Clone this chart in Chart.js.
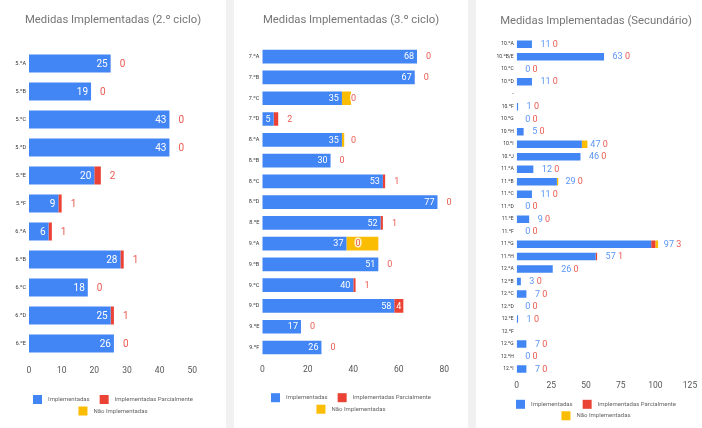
<!DOCTYPE html>
<html><head><meta charset="utf-8">
<script src="https://cdn.jsdelivr.net/npm/chart.js@4.4.0/dist/chart.umd.min.js"></script>
<style>
html,body{margin:0;padding:0;background:#f1f1f1;width:702px;height:428px;overflow:hidden;position:relative}
canvas{position:absolute;top:0;background:#fff}
</style></head><body>
<canvas id="c1" width="226" height="428" style="left:0"></canvas>
<canvas id="c2" width="234" height="428" style="left:234px"></canvas>
<canvas id="c3" width="240" height="428" style="left:476px"></canvas>
<script>
const seriesNames = ['Implementadas', 'Implementadas Parcialmente', 'Não Implementadas'];

// 2.º ciclo
const cat2 = ['5.ºA','5.ºB','5.ºC','5.ºD','5.ºE','5.ºF','6.ºA','6.ºB','6.ºC','6.ºD','6.ºE'];
const impl2 = [25,19,43,43,20,9,6,28,18,25,26];
const parc2 = [0,0,0,0,2,1,1,1,0,1,0];
const nao2  = [0,0,0,0,0,0,0,0,0,0,0];
const ticks2 = [0,10,20,30,40,50];

// 3.º ciclo
const cat3 = ['7.ºA','7.ºB','7.ºC','7.ºD','8.ºA','8.ºB','8.ºC','8.ºD','8.ºE','9.ºA','9.ºB','9.ºC','9.ºD','9.ºE','9.ºF'];
const impl3 = [68,67,35,5,35,30,53,77,52,37,51,40,58,17,26];
const parc3 = [0,0,0,2,0,0,1,0,1,0,0,1,4,0,0];
const nao3  = [0,0,4,0,1,0,0,0,0,14,0,0,0,0,0];
const ticks3 = [0,20,40,60,80];

// Secundário
const catS = ['10.ºA','10.ºB/E','10.ºC','10.ºD','-','10.ºF','10.ºG','10.ºH','10.ºI','10.ºJ','11.ºA','11.ºB','11.ºC','11.ºD','11.ºE','11.ºF','11.ºG','11.ºH','12.ºA','12.ºB','12.ºC','12.ºD','12.ºE','12.ºF','12.ºG','12.ºH','12.ºI'];
const implS = [11,63,0,11,null,1,0,5,47,46,12,29,11,0,9,0,97,57,26,3,7,0,1,null,7,0,7];
const parcS = [0,0,0,0,null,0,0,0,0,0,0,0,0,0,0,0,3,1,0,0,0,0,0,null,0,0,0];
const naoS  = [0,0,0,0,null,0,0,0,4,0,0,1,0,0,0,0,2,0,0,0,0,0,0,null,0,0,0];
const ticksS = [0,25,50,75,100,125];

const FONT = 'Roboto, "Noto Sans", Arial, sans-serif';
const COLORS = ['#4285f4','#ea4335','#fbbc04'];
const RED_TXT = '#ec5a50';
const BLUE_TXT = '#5b96f5';

const labelPlugin = {
  id: 'valLabels',
  afterDatasetsDraw(chart, args, o) {
    const ctx = chart.ctx, xs = chart.scales.x, ys = chart.scales.y;
    const b = chart.data.datasets[0].data, p = chart.data.datasets[1].data;
    ctx.save();
    ctx.font = o.size + 'px ' + FONT;
    ctx.textBaseline = 'middle';
    ctx.lineJoin = 'round';
    for (let i = 0; i < b.length; i++) {
      if (b[i] == null) continue;
      const y = ys.getPixelForValue(i) + 0.5;
      const xb = xs.getPixelForValue(b[i]);
      const xe = xs.getPixelForValue(b[i] + p[i]);
      if (o.mode === 'inside') {
        ctx.textAlign = 'right';
        ctx.fillStyle = '#ffffff';
        ctx.fillText(String(b[i]), xb - 3, y);
        const tp = String(p[i]);
        const tw = ctx.measureText(tp).width;
        if (xe - xb >= tw + 3) {
          ctx.textAlign = 'center';
          ctx.fillStyle = '#ffffff';
          ctx.fillText(tp, (xb + xe) / 2, y);
        } else {
          ctx.textAlign = 'left';
          ctx.lineWidth = 3; ctx.strokeStyle = 'rgba(255,255,255,0.8)';
          ctx.strokeText(tp, xe + 9, y);
          ctx.fillStyle = RED_TXT;
          ctx.fillText(tp, xe + 9, y);
        }
      } else {
        ctx.textAlign = 'left';
        const t1 = String(b[i]);
        const x0 = xe + 8.5;
        ctx.lineWidth = 3; ctx.strokeStyle = 'rgba(255,255,255,0.8)';
        ctx.strokeText(t1, x0, y);
        ctx.fillStyle = BLUE_TXT;
        ctx.fillText(t1, x0, y);
        const w = ctx.measureText(t1 + ' ').width;
        ctx.strokeText(String(p[i]), x0 + w, y);
        ctx.fillStyle = RED_TXT;
        ctx.fillText(String(p[i]), x0 + w, y);
      }
    }
    ctx.restore();
  }
};

const decoPlugin = {
  id: 'deco',
  afterDraw(chart, args, o) {
    const ctx = chart.ctx, W = chart.width;
    ctx.save();
    ctx.font = o.titleSize + 'px ' + FONT;
    ctx.fillStyle = '#757575';
    ctx.textAlign = 'center';
    ctx.textBaseline = 'middle';
    ctx.fillText(o.title, W / 2, o.titleY);
    const ds = chart.data.datasets;
    const rows = [[0, 1], [2]];
    ctx.font = o.legSize + 'px ' + FONT;
    ctx.textAlign = 'left';
    rows.forEach((r, ri) => {
      const widths = r.map(k => 9 + 6 + ctx.measureText(ds[k].label).width);
      const total = widths.reduce((a, c) => a + c, 0) + 10 * (r.length - 1);
      let x = W / 2 - total / 2;
      const y = o.legY + ri * o.legGap;
      r.forEach((k, j) => {
        ctx.fillStyle = ds[k].backgroundColor;
        ctx.fillRect(x, y - 4.5, 9, 9);
        ctx.fillStyle = '#666';
        ctx.fillText(ds[k].label, x + 15, y);
        x += widths[j] + 10;
      });
    });
    ctx.restore();
  }
};

function makeChart(id, cats, series, tickVals, cfg) {
  return new Chart(document.getElementById(id), {
    type: 'bar',
    data: {
      labels: cats,
      datasets: series.map((d, k) => ({
        label: seriesNames[k], data: d, backgroundColor: COLORS[k],
        borderWidth: 0, barPercentage: cfg.bar, categoryPercentage: 1
      }))
    },
    options: {
      indexAxis: 'y', responsive: false, animation: false, devicePixelRatio: 1,
      layout: { padding: { top: cfg.top, right: cfg.right, bottom: cfg.bottom, left: 0 } },
      scales: {
        x: {
          stacked: true, min: tickVals[0], max: tickVals[tickVals.length - 1],
          afterBuildTicks(s) { s.ticks = tickVals.map(v => ({ value: v })); },
          ticks: { font: { family: FONT, size: 8.5 }, color: '#555', padding: cfg.xPad },
          grid: { display: false, drawTicks: false }, border: { display: false },
          afterFit(s) { s.height = cfg.xH; }
        },
        y: {
          stacked: true,
          ticks: { font: { family: FONT, size: cfg.ySize }, color: '#333', padding: 3, autoSkip: false },
          grid: { display: false, drawTicks: false }, border: { display: false },
          afterFit(s) { s.width = cfg.yW; }
        }
      },
      plugins: {
        legend: { display: false }, tooltip: { enabled: false }, title: { display: false },
        valLabels: { mode: cfg.mode, size: cfg.lblSize },
        deco: { title: cfg.title, titleSize: 11.3, titleY: cfg.titleY, legSize: 6, legY: cfg.legY, legGap: 11.5 }
      }
    },
    plugins: [labelPlugin, decoPlugin]
  });
}

makeChart('c1', cat2, [impl2, parc2, nao2], ticks2, {
  title: 'Medidas Implementadas (2.º ciclo)', titleY: 20,
  top: 49.5, right: 33.7, bottom: 50.5, xH: 20, yW: 29, xPad: 8, ySize: 5.5,
  bar: 0.65, mode: 'inside', lblSize: 10, legY: 399.5
});
makeChart('c2', cat3, [impl3, parc3, nao3], ticks3, {
  title: 'Medidas Implementadas (3.º ciclo)', titleY: 20,
  top: 46.3, right: 23.7, bottom: 50.1, xH: 20, yW: 28.3, xPad: 7, ySize: 5.5,
  bar: 0.66, mode: 'inside', lblSize: 9, legY: 397.7
});
makeChart('c3', catS, [implS, parcS, naoS], ticksS, {
  title: 'Medidas Implementadas (Secundário)', titleY: 21.5,
  top: 38, right: 26, bottom: 32.7, xH: 20, yW: 40.7, xPad: 5.3, ySize: 5,
  bar: 0.6, mode: 'outside', lblSize: 9, legY: 404.3
});
</script>
</body></html>
